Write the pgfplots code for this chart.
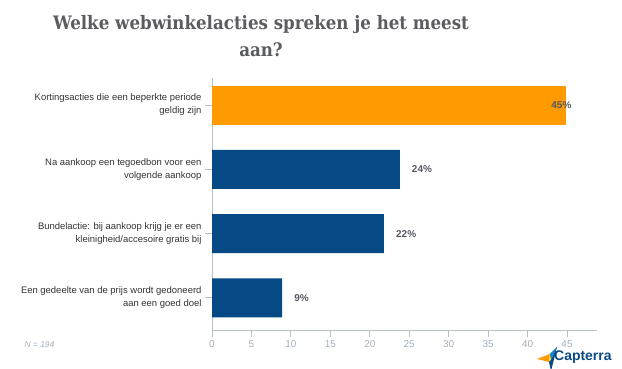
\documentclass[border=0pt]{standalone}
\usepackage{fontspec}
\setmainfont{Liberation Sans}
\newfontfamily\titlefont{DejaVu Serif Condensed}
\usepackage{pgfplots}
\pgfplotsset{compat=1.18}
\definecolor{titlegray}{HTML}{5B5C60}
\definecolor{labgray}{HTML}{333333}
\definecolor{valgray}{HTML}{555860}
\definecolor{axgray}{HTML}{B5C0CA}
\definecolor{tickgray}{HTML}{A3AFBB}
\definecolor{barorange}{HTML}{FF9A00}
\definecolor{barblue}{HTML}{064A85}
\definecolor{capblue}{HTML}{0A4A82}
\begin{document}
\begin{tikzpicture}[x=1bp,y=1bp]
\path[use as bounding box] (0,-368) rectangle (622,0);
\node[anchor=base, font=\titlefont\bfseries\fontsize{18.6}{22}\selectfont, text=titlegray] at (261,-29) {Welke webwinkelacties spreken je het meest};
\node[anchor=base, font=\titlefont\bfseries\fontsize{18.6}{22}\selectfont, text=titlegray] at (261,-56.7) {aan?};
\begin{axis}[
  at={(212bp,-330bp)}, anchor=south west,
  scale only axis, width=385bp, height=252bp,
  xmin=0, xmax=48.8, ymin=-0.5, ymax=3.42,
  axis x line*=bottom, axis y line*=left,
  axis line style={axgray, -},
  xtick={0,5,...,45},
  ytick={0,1,2,3},
  yticklabels={{Een gedeelte van de prijs wordt gedoneerd\\aan een goed doel},
               {Bundelactie: bij aankoop krijg je er een\\kleinigheid/accesoire gratis bij},
               {Na aankoop een tegoedbon voor een\\volgende aankoop},
               {Kortingsacties die een beperkte periode\\geldig zijn}},
  yticklabel style={align=right, font=\fontsize{9.5}{13}\selectfont, text=labgray},
  xticklabel style={font=\fontsize{10}{12}\selectfont, text=tickgray},
  /pgf/number format/assume math mode=true,
  tick align=outside, major tick length=7bp,
  tick style={axgray, line width=0.8pt},
  xbar, bar width=39bp, bar shift=0pt,
  nodes near coords={\pgfmathprintnumber{\pgfplotspointmeta}\%},
  point meta=explicit,
  every node near coord/.append style={anchor=west, inner sep=0pt, font=\bfseries\fontsize{10}{11}\selectfont, text=valgray},
  clip=false,
]
\addplot[fill=barorange, draw=none, every node near coord/.append style={xshift=-15bp}] coordinates {(44.9,3) [45]};
\addplot[fill=barblue, draw=none, every node near coord/.append style={xshift=12bp}] coordinates {(23.8,2) [24] (21.8,1) [22] (8.9,0) [9]};
\end{axis}
\node[anchor=west, font=\itshape\fontsize{8.5}{10}\selectfont, text=tickgray] at (21,-345) {N = 194};
% Capterra logo
\begin{scope}[yshift=-10]
\fill[barorange] (537,-349) -- (550,-344) -- (549,-352) -- cycle;
\fill[yellow!80!orange] (550,-344) -- (557,-337) -- (549,-352) -- cycle;
\fill[cyan!70!blue] (557,-337) -- (550,-344) -- (551,-350) -- cycle;
\fill[capblue] (549,-352) -- (551,-350) -- (557,-337) -- (551,-361) -- cycle;
\end{scope}
\node[anchor=base west, font=\bfseries\fontsize{14}{16}\selectfont, text=capblue, inner sep=0pt] at (554,-360) {Capterra};
\end{tikzpicture}
\end{document}
